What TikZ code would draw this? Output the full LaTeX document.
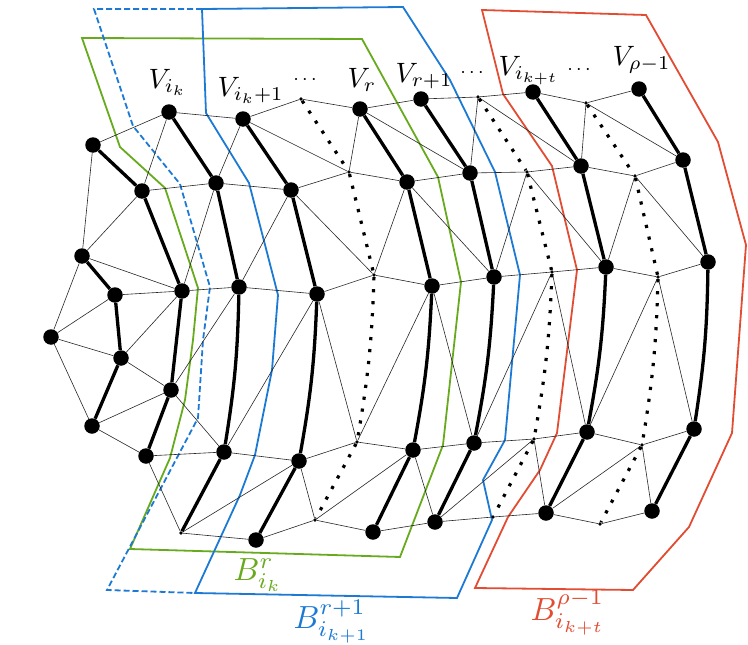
\documentclass[tikz,border=0pt]{standalone}
\definecolor{grn}{RGB}{104,170,30}
\definecolor{blu}{RGB}{28,122,212}
\definecolor{rd}{RGB}{226,76,50}
\begin{document}
\begin{tikzpicture}[x=1pt,y=1pt,
  big/.style={circle,fill=black,inner sep=0,minimum size=15.5pt},
  sm/.style={circle,fill=black,inner sep=0,minimum size=3.8pt},
  tedge/.style={line width=0.6pt,draw=black!85},
  thk/.style={line width=3.3pt,draw=black},
  dotl/.style={line width=3.2pt,dash pattern=on 3.2pt off 8.8pt,draw=black},
  poly/.style={line width=1.8pt,line join=miter},
  vlab/.style={scale=2.8,inner sep=0,anchor=base west},
  dlab/.style={scale=2.0,inner sep=0},
  blab/.style={scale=3.2,inner sep=0,anchor=base west}]
\useasboundingbox (0,0) rectangle (748,-645);
% polygons
\draw[poly,grn] (82,-38) -- (120,-147) -- (165,-188) -- (198,-288) -- (193,-340) -- (185,-400) -- (170,-458) -- (130,-549) -- (400,-557) -- (443,-445) -- (461,-282) -- (438,-177) -- (362,-39) -- cycle;
\draw[poly,blu,dash pattern=on 6pt off 3pt] (202,-9) -- (94,-9) -- (133,-126) -- (180,-184) -- (210,-287) -- (203,-340) -- (198,-418) -- (107,-590) -- (195,-593);
\draw[poly,blu] (202,-9) -- (206,-113) -- (249,-183) -- (278,-295) -- (272,-370) -- (255,-455) -- (240,-495) -- (195,-593) -- (457,-598) -- (492,-520) -- (483,-480) -- (505,-440) -- (520,-275) -- (495,-172) -- (450,-80) -- (403,-7) -- cycle;
\draw[poly,rd] (482,-10) -- (503,-94) -- (552,-166) -- (577,-270) -- (557,-433) -- (540,-470) -- (508,-517) -- (475,-588) -- (633,-590) -- (689,-527) -- (732,-433) -- (746,-245) -- (718,-142) -- (646,-15) -- cycle;
% nodes
\node[big] (L0) at (51,-337) {};
\node[big] (P1) at (82,-256) {};
\node[big] (P2) at (115,-295) {};
\node[big] (P3) at (121,-358) {};
\node[big] (P4) at (92,-426) {};
\node[big] (A1) at (93,-145) {};
\node[big] (A2) at (142,-191) {};
\node[big] (A3) at (182,-291) {};
\node[big] (A4) at (171,-390) {};
\node[big] (A5) at (146,-456) {};
\node[big] (B1) at (169,-112) {};
\node[big] (B2) at (216,-183) {};
\node[big] (B3) at (239,-287) {};
\node[big] (B4) at (224,-452) {};
\node[sm]  (B5) at (181,-533) {};
\node[big] (C1) at (243,-119) {};
\node[big] (C2) at (291,-190) {};
\node[big] (C3) at (317,-294) {};
\node[big] (C4) at (299,-461) {};
\node[big] (C5) at (256,-540) {};
\node[sm] (D1) at (301,-99) {};
\node[sm] (D2) at (349,-172) {};
\node[sm] (D3) at (374,-275) {};
\node[sm] (D4) at (357,-442) {};
\node[sm] (D5) at (315,-520) {};
\node[big] (E1) at (360,-109) {};
\node[big] (E2) at (407,-182) {};
\node[big] (E3) at (432,-286) {};
\node[big] (E4) at (413,-450) {};
\node[big] (E5) at (373,-532) {};
\node[big] (F1) at (421,-99) {};
\node[big] (F2) at (470,-173) {};
\node[big] (F3) at (494,-277) {};
\node[big] (F4) at (474,-443) {};
\node[big] (F5) at (435,-522) {};
\node[sm] (G1) at (478,-97) {};
\node[sm] (G2) at (527,-172) {};
\node[sm] (G3) at (552,-272) {};
\node[sm] (G4) at (534,-439) {};
\node[sm] (G5) at (493,-517) {};
\node[big] (H1) at (533,-92) {};
\node[big] (H2) at (581,-166) {};
\node[big] (H3) at (606,-267) {};
\node[big] (H4) at (587,-432) {};
\node[big] (H5) at (546,-513) {};
\node[sm] (I1) at (586,-103) {};
\node[sm] (I2) at (635,-176) {};
\node[sm] (I3) at (658,-277) {};
\node[sm] (I4) at (642,-445) {};
\node[sm] (I5) at (600,-524) {};
\node[big] (J1) at (639,-89) {};
\node[big] (J2) at (683,-160) {};
\node[big] (J3) at (708,-262) {};
\node[big] (J4) at (694,-429) {};
\node[big] (J5) at (652,-511) {};
% thin edges
\draw[tedge] (A1)--(P1) (A2)--(P1) (P1)--(A3) (P1)--(L0) (L0)--(P2) (L0)--(P3) (L0)--(P4)
  (P2)--(A3) (P3)--(A3) (P3)--(A4) (P4)--(A4) (P4)--(A5);
\draw[tedge] (A1)--(B1) (B1)--(A2) (A2)--(B2) (B2)--(A3) (A3)--(B3) (B3)--(A4) (A4)--(B4) (A5)--(B4) (A5)--(B5);
\draw[tedge] (B1)--(C1) (C1)--(B2) (B2)--(C2) (C2)--(B3) (B3)--(C3) (C3)--(B4) (B4)--(C4) (C4)--(B5) (B5)--(C5);
\draw[tedge] (C1)--(D1) (D1)--(E1) (C1)--(D2) (E1)--(D2) (C2)--(D2) (D2)--(E2) (C2)--(D3) (E2)--(D3)
  (C3)--(D3) (D3)--(E3) (C3)--(D4) (E3)--(D4) (C4)--(D4) (D4)--(E4) (C4)--(D5) (E4)--(D5) (C5)--(D5) (D5)--(E5);
\draw[tedge] (E1)--(F1) (E1)--(F2) (E2)--(F2) (E2)--(F3) (E3)--(F3) (E3)--(F4) (E4)--(F4) (E4)--(F5) (E5)--(F5);
\draw[tedge] (F1)--(G1) (G1)--(F2) (G1)--(H1) (G1)--(H2) (F2)--(G2) (G2)--(H2) (G2)--(F3) (G2)--(H3)
  (F3)--(G3) (G3)--(H3) (G3)--(F4) (G3)--(H4) (F4)--(G4) (G4)--(H4) (G4)--(F5) (G4)--(H5) (F5)--(G5) (G5)--(H5);
\draw[tedge] (H1)--(I1) (I1)--(J1) (I1)--(H2) (I1)--(J2) (H2)--(I2) (I2)--(J2) (I2)--(H3) (I2)--(J3)
  (H3)--(I3) (I3)--(J3) (I3)--(H4) (I3)--(J4) (H4)--(I4) (I4)--(J4) (I4)--(H5) (I4)--(J5) (H5)--(I5) (I5)--(J5);
% thick paths
\draw[thk] (P1)--(P2) (P2)--(P3) (P3)--(P4);
\draw[thk] (A1)--(A2) (A2)--(A3) (A3)--(A4) (A4)--(A5);
\foreach \c in {B,C,E,F,H,J}{
  \draw[thk] (\c1)--(\c2) (\c2)--(\c3) (\c4)--(\c5);
  \draw[thk] (\c3) to[bend left=4] (\c4);
}
\foreach \c in {D,G,I}{
  \draw[dotl] (\c1)--(\c2) (\c2)--(\c3) (\c4)--(\c5);
  \draw[dotl] (\c3) to[bend left=4] (\c4);
}
% labels
\node[vlab] (l1) at (148,-88) {$V_{i_k}$};
\node[vlab] (l2) at (217,-96) {$V_{i_k+1}$};
\node[dlab] (d1) at (305,-80) {$\cdots$};
\node[vlab] (l3) at (347,-87) {$V_r$};
\node[vlab] (l4) at (395,-82) {$V_{r+1}$};
\node[dlab] (d2) at (472,-73) {$\cdots$};
\node[vlab] (l5) at (498,-75) {$V_{i_{k+t}}$};
\node[dlab] (d3) at (579,-70) {$\cdots$};
\node[vlab] (l6) at (612,-65) {$V_{\rho-1}$};
\node[blab,text=grn] (b1) at (233,-580) {$B^r_{i_k}$};
\node[blab,text=blu] (b2) at (293,-628) {$B^{r+1}_{i_{k+1}}$};
\node[blab,text=rd] (b3) at (530,-620) {$B^{\rho-1}_{i_{k+t}}$};
\end{tikzpicture}
\end{document}
